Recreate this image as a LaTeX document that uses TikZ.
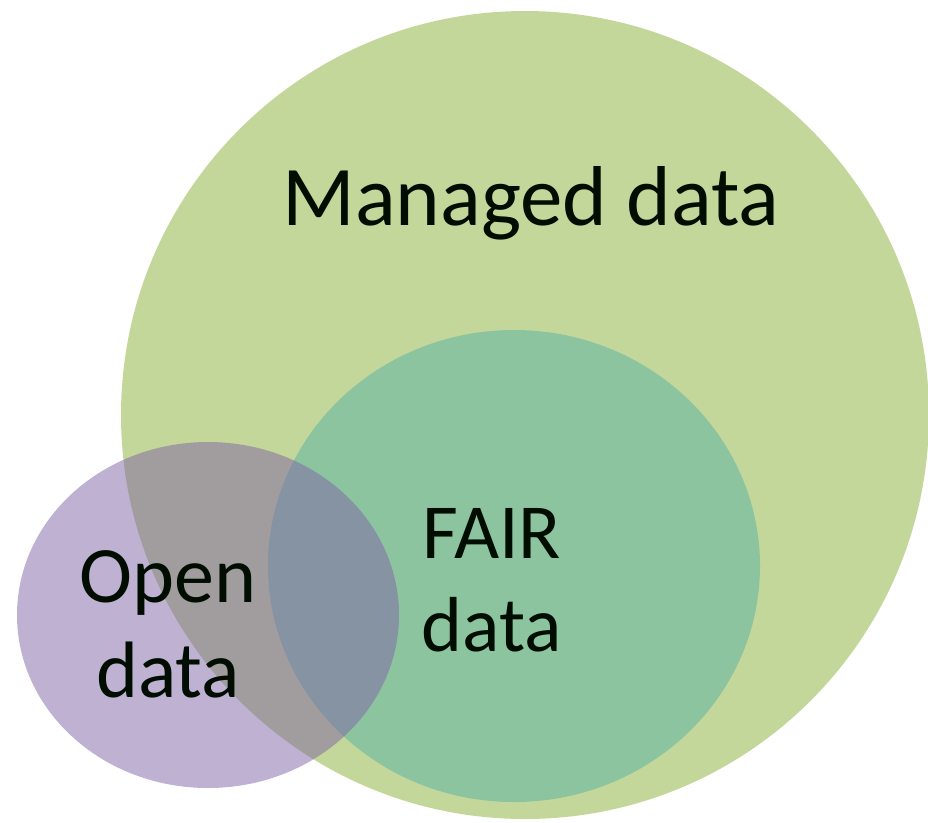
\documentclass[tikz,border=0pt]{standalone}
\usepackage{fontspec}
\setmainfont{Carlito}
\definecolor{mgreen}{RGB}{196,215,155}
\definecolor{fteal}{RGB}{140,196,160}
\definecolor{opurple}{RGB}{128,100,164}
\begin{document}
\begin{tikzpicture}[x=1pt,y=-1pt,
  lbl/.style={text=black!95!green, inner sep=0pt, align=center}]
\useasboundingbox (0,0) rectangle (928,822);
\fill[mgreen] (525,415) ellipse [x radius=404, y radius=404];
\fill[fteal] (514,566) ellipse [x radius=246, y radius=236];
\fill[opurple, fill opacity=0.5] (208,615) ellipse [x radius=191, y radius=173];
\node[lbl, anchor=base, font=\fontsize{85}{100}\selectfont] (managed) at (531,225) {Managed data};
\node[lbl, anchor=base, font=\fontsize{80}{95}\selectfont] (open) at (168,697) {Open\\data};
\node[lbl, anchor=base, font=\fontsize{78}{93}\selectfont] (fair) at (492,651) {FAIR\\data};
\end{tikzpicture}
\end{document}
